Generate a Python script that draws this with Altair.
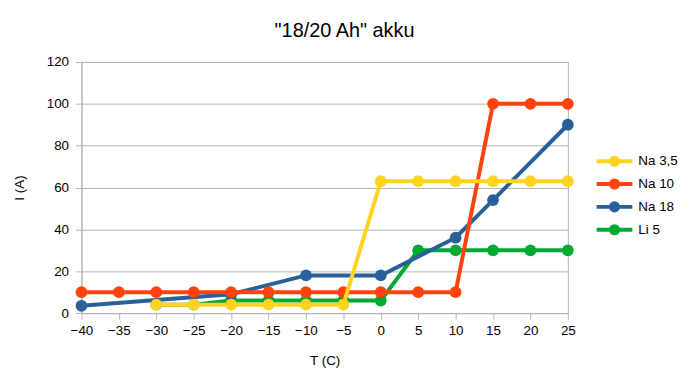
import altair as alt
import pandas as pd

temps = [-40, -35, -30, -25, -20, -15, -10, -5, 0, 5, 10, 15, 20, 25]
series_names = ["Na 3,5", "Na 10", "Na 18", "Li 5"]
colors = ["#ffd320", "#ff420e", "#2a6099", "#00a933"]

na35 = [None, None, 4, 4, 4, 4, 4, 4, 63, 63, 63, 63, 63, 63]
na10 = [10, 10, 10, 10, 10, 10, 10, 10, 10, 10, 10, 100, 100, 100]
na18 = [3.5, None, None, None, 9, None, 18, None, 18, None, 36, 54, None, 90]
li5 = [None, None, 4, 4, 6, 6, 6, 6, 6, 30, 30, 30, 30, 30]

values = {"Na 3,5": na35, "Na 10": na10, "Na 18": na18, "Li 5": li5}

rows = []
for name in series_names:
    for t, v in zip(temps, values[name]):
        if v is not None:
            rows.append({"T": t, "I": v, "series": name})
df = pd.DataFrame(rows)

FONT = "Liberation Sans"
color_scale = alt.Scale(domain=series_names, range=colors)

legend_path = ("M-2,0 L2,0 M-0.4,0 a0.4,0.4 0 1,0 0.8,0 a0.4,0.4 0 1,0 -0.8,0")

x_enc = alt.X("T:Q", title="T (C)",
              scale=alt.Scale(domain=[-40, 25], nice=False, zero=False),
              axis=alt.Axis(values=temps, grid=False, tickColor="#b3b3b3",
                            domainColor="#b3b3b3", tickSize=6, labelPadding=5,
                            labelFlush=False, titlePadding=16))
y_enc = alt.Y("I:Q", title="I (A)",
              scale=alt.Scale(domain=[0, 120], nice=False),
              axis=alt.Axis(values=[0, 20, 40, 60, 80, 100, 120], grid=True,
                            gridColor="#b3b3b3", tickColor="#b3b3b3",
                            domainColor="#b3b3b3", tickSize=6, labelPadding=7,
                            labelFlush=False, titlePadding=20))

layers = []
for i, name in enumerate(reversed(series_names)):
    base = alt.Chart(df).transform_filter(alt.datum.series == name)
    show_legend = (i == 0)
    color_enc = alt.Color("series:N", scale=color_scale,
                          legend=alt.Legend(title=None, orient="none",
                                            legendX=526, legendY=89,
                                            symbolType=legend_path,
                                            symbolSize=324,
                                            symbolStrokeWidth=4,
                                            labelFont=FONT, labelFontSize=13.5,
                                            labelColor="#000000",
                                            labelOffset=13,
                                            rowPadding=-1) if show_legend else None)
    line = base.mark_line(strokeWidth=4).encode(x=x_enc, y=y_enc, color=color_enc)
    pts = base.mark_point(filled=True, size=140, opacity=1, shape="circle").encode(
        x=x_enc, y=y_enc, color=alt.Color("series:N", scale=color_scale, legend=None))
    layers.extend([line, pts])

chart = alt.layer(*layers).properties(
    width=490, height=253,
    title=alt.TitleParams('"18/20 Ah" akku', font=FONT, fontSize=20,
                          fontWeight="normal", color="#000000", anchor="middle",
                          dx=20, offset=14),
    autosize=alt.AutoSizeParams(type="none"),
    padding={"left": 74, "top": 53, "right": 116, "bottom": 56},
).configure_axis(
    labelFont=FONT, labelFontSize=13.5, labelColor="#000000",
    titleFont=FONT, titleFontSize=13.5, titleFontWeight="normal", titleColor="#000000",
).configure_view(stroke="#b3b3b3", strokeWidth=1)

chart.save("out.html", embed_options={"renderer": "svg", "actions": False})
